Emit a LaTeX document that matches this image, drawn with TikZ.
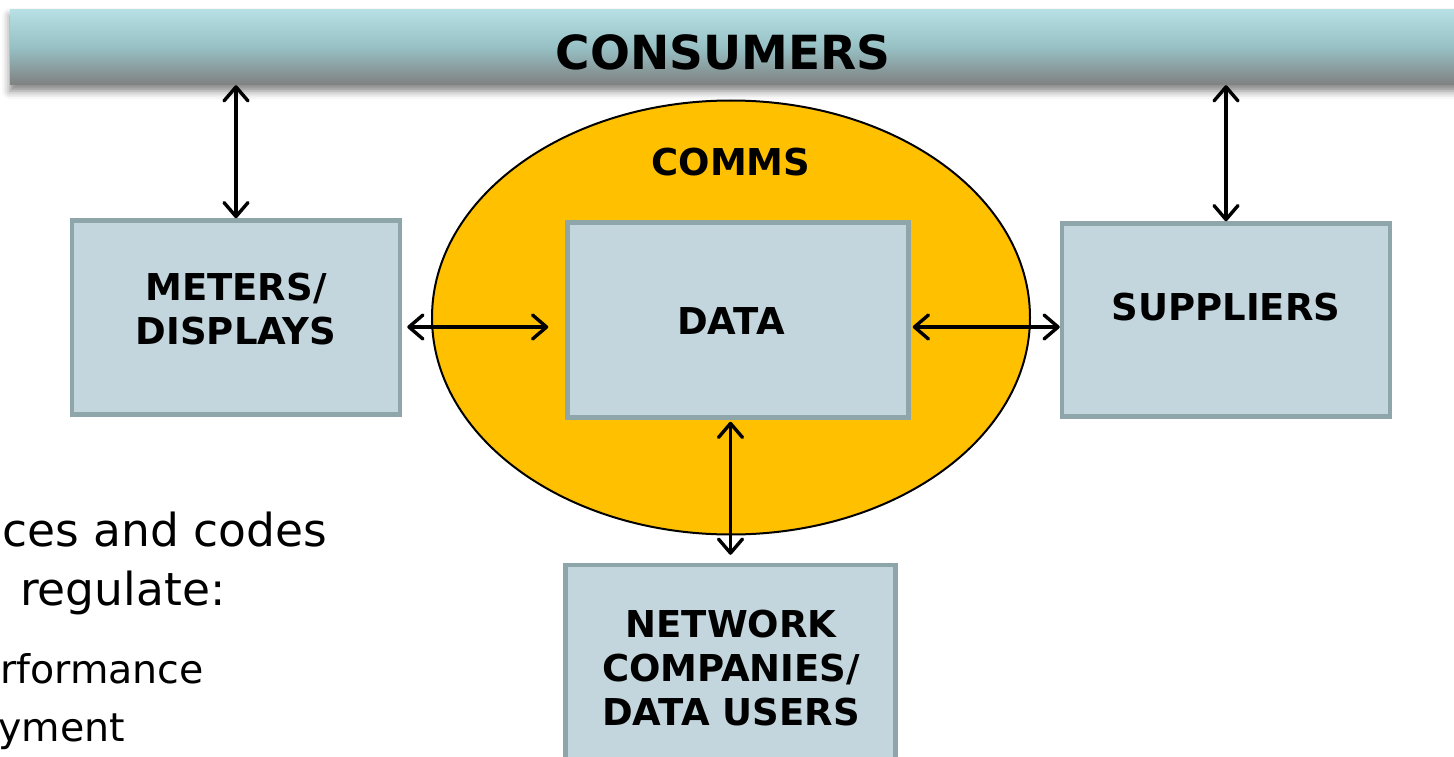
\documentclass[tikz,border=0pt]{standalone}
\usepackage{fontspec}
\setmainfont{DejaVu Sans}
\usetikzlibrary{arrows.meta,shadows.blur,shapes.geometric}
\definecolor{barTop}{RGB}{182,224,227}
\definecolor{barMid}{RGB}{150,192,196}
\definecolor{barBot}{RGB}{128,128,128}
\definecolor{boxFill}{RGB}{195,213,221}
\definecolor{boxLine}{RGB}{142,166,169}
\definecolor{commsFill}{RGB}{255,192,0}
\begin{document}
\begin{tikzpicture}[x=1pt,y=-1pt,
  box/.style={draw=boxLine, line width=4.5pt, fill=boxFill, inner sep=0pt, rectangle},
  lbl/.style={font=\bfseries\fontsize{37}{44}\selectfont, align=center, inner sep=0pt},
  arr/.style={line width=3.4pt, {Straight Barb[length=14pt,width=24pt,line cap=round,line join=round]}-{Straight Barb[length=14pt,width=24pt,line cap=round,line join=round]}},
  body/.style={anchor=base west, inner sep=0pt}]
\useasboundingbox (0,0) rectangle (1454,757);

% top bar
\node[rectangle, minimum width=1460pt, minimum height=75pt, inner sep=0pt,
      top color=barTop, bottom color=barBot, middle color=barMid,
      blur shadow={shadow xshift=0pt, shadow yshift=-6pt, shadow blur radius=8pt, shadow opacity=50}]
      (bar) at (740,47.5) {};
\node[font=\bfseries\fontsize{47}{56}\selectfont, inner sep=0pt] (consumers) at (723,52.5) {CONSUMERS};

% left body text
\node[body, font=\fontsize{45.5}{54}\selectfont] (t1) at (2,546) {ces and codes};
\node[body, font=\fontsize{45.5}{54}\selectfont] (t2) at (20,605) {regulate:};
\node[body, font=\fontsize{39.5}{47}\selectfont] (t3) at (0,683) {rformance};
\node[body, font=\fontsize{39.5}{47}\selectfont] (t4) at (-2,741) {yment};

% comms ellipse
\node[ellipse, draw=black, line width=2pt, fill=commsFill, minimum width=598pt, minimum height=434pt, inner sep=0pt] (comms) at (731,317.5) {};
\node[lbl] (commsT) at (731,162.5) {COMMS};

% boxes
\node[box, minimum width=328pt, minimum height=194pt] (meters) at (236,317.5) {};
\node[lbl] (metersT) at (236,309) {METERS/\\DISPLAYS};

\node[box, minimum width=341pt, minimum height=195pt] (data) at (738,320) {};
\node[lbl] (dataT) at (731,321) {DATA};

\node[box, minimum width=328pt, minimum height=193pt] (sup) at (1226,320) {};
\node[lbl] (supT) at (1226,307) {SUPPLIERS};

\node[box, minimum width=330pt, minimum height=208pt] (net) at (730.5,669) {};
\node[lbl] (netT) at (731,668) {NETWORK\\COMPANIES/\\DATA USERS};

% connectors
\draw[arr] (meters.north) -- (meters.north |- bar.south);
\draw[arr] (sup.north) -- (sup.north |- bar.south);
\draw[arr, shorten <=5pt, shorten >=17pt] ([yshift=-9.5pt]meters.east) -- ([yshift=-9.5pt]meters.east -| data.west);
\draw[arr, shorten <=2pt] ([yshift=-7pt]data.east) -- ([yshift=-7pt]data.east -| sup.west);
\draw[arr, shorten <=2pt, shorten >=8pt] (data.south -| net.north) -- (net.north);
\end{tikzpicture}
\end{document}
